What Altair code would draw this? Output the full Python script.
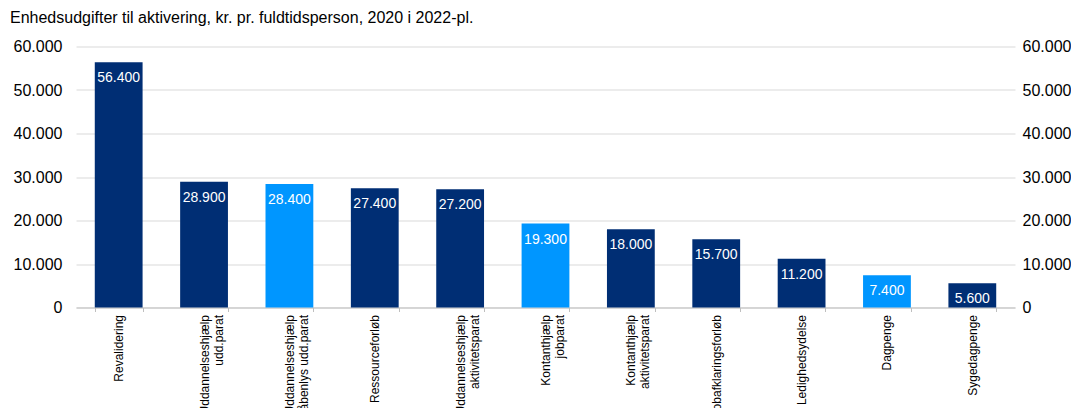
import altair as alt
import pandas as pd

categories = [
    "Revalidering",
    "Uddannelseshjælp|udd.parat",
    "Uddannelseshjælp|åbenlys udd.parat",
    "Ressourceforløb",
    "Uddannelseshjælp|aktivitetsparat",
    "Kontanthjælp|jobparat",
    "Kontanthjælp|aktivitetsparat",
    "Jobafklaringsforløb",
    "Ledighedsydelse",
    "Dagpenge",
    "Sygedagpenge",
]
values = [56400, 28900, 28400, 27400, 27200, 19300, 18000, 15700, 11200, 7400, 5600]
groups = ["mørk", "mørk", "lys", "mørk", "mørk", "lys", "mørk", "mørk", "mørk", "lys", "mørk"]

df = pd.DataFrame({"kategori": categories, "værdi": values, "gruppe": groups})

FONT = "Liberation Sans"
NAVY = "#002E74"
LIGHT = "#0096FF"
fmt = "replace(format(datum.value, ','), ',', '.')"

x_enc = alt.X(
    "kategori:N",
    sort=None,
    title=None,
    scale=alt.Scale(paddingInner=0.44, paddingOuter=0.22),
    axis=alt.Axis(
        labelAngle=270,
        labelExpr="split(datum.label, '|')",
        labelFontSize=12,
        labelFont=FONT,
        labelColor="#000000",
        labelPadding=3,
        labelLineHeight=14,
        tickBand="extent",
        tickSize=4,
        tickColor="#BFBFBF",
        domainColor="#BFBFBF",
        grid=False,
        labelLimit=0,
    ),
)

y_scale = alt.Scale(domain=[0, 60000], nice=False)

bars = alt.Chart(df).mark_bar().encode(
    x=x_enc,
    y=alt.Y(
        "værdi:Q",
        title=None,
        scale=y_scale,
        axis=alt.Axis(
            values=[0, 10000, 20000, 30000, 40000, 50000, 60000],
            labelExpr=fmt,
            labelFontSize=16,
            labelFont=FONT,
            labelColor="#000000",
            labelPadding=14,
            ticks=False,
            domain=False,
            gridColor="#D9D9D9",
            gridWidth=1,
        ),
    ),
    color=alt.Color(
        "gruppe:N",
        scale=alt.Scale(domain=["mørk", "lys"], range=[NAVY, LIGHT]),
        legend=None,
    ),
)

labels = alt.Chart(df).transform_calculate(
    tekst="replace(format(datum['værdi'], ','), ',', '.')"
).mark_text(
    baseline="alphabetic", dy=20, color="white", fontSize=14, font=FONT
).encode(
    x=alt.X("kategori:N", sort=None),
    y=alt.Y(
        "værdi:Q",
        scale=y_scale,
        axis=alt.Axis(
            orient="right",
            values=[0, 10000, 20000, 30000, 40000, 50000, 60000],
            labelExpr=fmt,
            labelFontSize=16,
            labelFont=FONT,
            labelColor="#000000",
            labelPadding=7,
            ticks=False,
            domain=False,
            grid=False,
            title=None,
        ),
    ),
    text="tekst:N",
)

chart = (
    alt.layer(bars, labels)
    .resolve_scale(y="independent")
    .properties(
        width=939,
        height=261,
        autosize=alt.AutoSizeParams(type="none"),
        padding={"left": 68, "top": 38.5, "right": 56, "bottom": 100},
        title=alt.TitleParams(
            "Enhedsudgifter til aktivering, kr. pr. fuldtidsperson, 2020 i 2022-pl.",
            anchor="start",
            frame="group",
            dx=-66,
            offset=13,
            fontSize=16,
            font=FONT,
            fontWeight="normal",
            color="#000000",
        ),
    )
    .configure_view(stroke=None)
)

chart.save("out.html", embed_options={"renderer": "svg", "actions": False})
